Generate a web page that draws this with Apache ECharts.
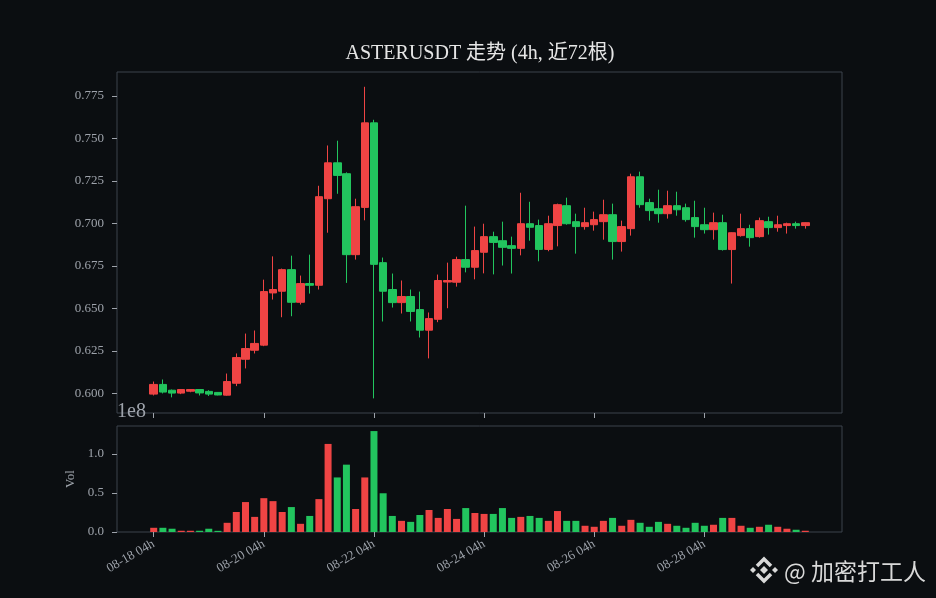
<!DOCTYPE html>
<html>
<head>
<meta charset="UTF-8">
<title>ASTERUSDT 走势</title>
<script src="https://cdn.jsdelivr.net/npm/echarts@6/dist/echarts.min.js"></script>
<style>
  html, body { margin: 0; padding: 0; background: #0b0e11; }
  #main { width: 936px; height: 598px; }
</style>
</head>
<body>
<div id="main"></div>
<script type="text/javascript">
// 4h K线数据 (72根, 起点 08-18 04h)
var openP = [0.5996,0.6053,0.6019,0.6002,0.6013,0.6023,0.6012,0.6006,0.5990,0.6060,
             0.6201,0.6254,0.6284,0.6591,0.6601,0.6728,0.6536,0.6646,0.6636,0.7145,
             0.7356,0.7292,0.6816,0.7094,0.7591,0.6769,0.6611,0.6534,0.6570,0.6493,
             0.6372,0.6436,0.6655,0.6654,0.6787,0.6742,0.6830,0.6922,0.6898,0.6869,
             0.6853,0.6998,0.6987,0.6847,0.6987,0.7104,0.7010,0.6981,0.6992,0.7010,
             0.7051,0.6893,0.6969,0.7274,0.7122,0.7086,0.7057,0.7104,0.7092,0.7034,
             0.6992,0.6963,0.7004,0.6846,0.6928,0.6969,0.6922,0.7010,0.6975,0.6987,
             0.6998,0.6987];
var highP = [0.6070,0.6082,0.6023,0.6026,0.6025,0.6025,0.6019,0.6008,0.6117,0.6235,
             0.6352,0.6370,0.6669,0.6806,0.6734,0.6810,0.6693,0.6816,0.7221,0.7458,
             0.7486,0.7300,0.7145,0.7803,0.7609,0.6799,0.6705,0.6664,0.6611,0.6599,
             0.6476,0.6699,0.6769,0.6804,0.7104,0.6981,0.6998,0.6951,0.7010,0.6922,
             0.7180,0.7127,0.7022,0.7045,0.7116,0.7151,0.7057,0.7092,0.7069,0.7139,
             0.7116,0.7016,0.7292,0.7304,0.7145,0.7198,0.7192,0.7186,0.7116,0.7133,
             0.7092,0.7063,0.7051,0.6947,0.7057,0.6992,0.7034,0.7039,0.7045,0.7004,
             0.7010,0.7006];
var lowP  = [0.5988,0.6000,0.5977,0.5996,0.6007,0.5988,0.5985,0.5989,0.5987,0.6043,
             0.6147,0.6235,0.6278,0.6552,0.6448,0.6454,0.6523,0.6587,0.6611,0.6945,
             0.7174,0.6650,0.6787,0.7018,0.5971,0.6423,0.6505,0.6470,0.6423,0.6329,
             0.6206,0.6419,0.6501,0.6628,0.6712,0.6671,0.6706,0.6700,0.6752,0.6705,
             0.6812,0.6898,0.6777,0.6836,0.6865,0.6992,0.6822,0.6963,0.6957,0.6904,
             0.6787,0.6834,0.6928,0.7092,0.7016,0.7004,0.7028,0.7045,0.7010,0.6916,
             0.6940,0.6904,0.6840,0.6646,0.6922,0.6863,0.6916,0.6934,0.6951,0.6940,
             0.6969,0.6969];
var closeP = [0.6053,0.6008,0.6002,0.6023,0.6023,0.6003,0.5996,0.5991,0.6070,0.6211,
             0.6264,0.6294,0.6599,0.6611,0.6728,0.6536,0.6646,0.6636,0.7157,0.7356,
             0.7282,0.6816,0.7098,0.7591,0.6759,0.6601,0.6534,0.6570,0.6482,0.6372,
             0.6440,0.6664,0.6664,0.6787,0.6742,0.6840,0.6922,0.6888,0.6859,0.6853,
             0.6998,0.6977,0.6847,0.6998,0.7110,0.6998,0.6981,0.7004,0.7022,0.7051,
             0.6893,0.6981,0.7274,0.7110,0.7075,0.7057,0.7104,0.7080,0.7022,0.6981,
             0.6963,0.7004,0.6846,0.6945,0.6969,0.6916,0.7016,0.6975,0.6992,0.6998,
             0.6987,0.7004];
var volume = [0.054e8,0.054e8,0.042e8,0.016e8,0.016e8,0.016e8,0.042e8,0.015e8,0.118e8,0.257e8,
              0.384e8,0.194e8,0.434e8,0.396e8,0.257e8,0.320e8,0.105e8,0.206e8,0.422e8,1.130e8,
              0.700e8,0.864e8,0.295e8,0.700e8,1.295e8,0.497e8,0.206e8,0.143e8,0.130e8,0.218e8,
              0.282e8,0.181e8,0.295e8,0.168e8,0.307e8,0.244e8,0.232e8,0.232e8,0.307e8,0.181e8,
              0.194e8,0.206e8,0.181e8,0.143e8,0.269e8,0.143e8,0.143e8,0.080e8,0.067e8,0.143e8,
              0.181e8,0.080e8,0.156e8,0.118e8,0.067e8,0.130e8,0.105e8,0.080e8,0.054e8,0.118e8,
              0.080e8,0.093e8,0.181e8,0.181e8,0.080e8,0.054e8,0.067e8,0.093e8,0.067e8,0.042e8,
              0.029e8,0.016e8];
var tickLabels = ['08-18 04h','08-20 04h','08-22 04h','08-24 04h','08-26 04h','08-28 04h'];
var priceTicks = [0.600,0.625,0.650,0.675,0.700,0.725,0.750,0.775];
var volTicks = [0, 0.5e8, 1.0e8];

var UP = '#ef4444', DOWN = '#22c55e';
var TXT = '#9ea3ab', BORDER = '#3c424c';
var FONT = '"Liberation Serif", "Noto Sans CJK SC", serif';
var pad = 4; // 左右各留4根的空位

// 时间轴 (4小时一根)
var start = Date.UTC(2025, 7, 18, 4);
var cats = [];
function p2(n) { return (n < 10 ? '0' : '') + n; }
for (var k = -pad; k < openP.length + pad; k++) {
    var d = new Date(start + k * 4 * 3600 * 1000);
    cats.push(p2(d.getUTCMonth() + 1) + '-' + p2(d.getUTCDate()) + ' ' + p2(d.getUTCHours()) + 'h');
}

var kData = [], vData = [];
for (var i = 0; i < pad; i++) { kData.push(['-','-','-','-']); vData.push('-'); }
for (var i = 0; i < openP.length; i++) {
    kData.push([openP[i], closeP[i], lowP[i], highP[i]]);
    vData.push({ value: volume[i], itemStyle: { color: closeP[i] >= openP[i] ? UP : DOWN } });
}
for (var i = 0; i < pad; i++) { kData.push(['-','-','-','-']); vData.push('-'); }

function showTick(index, value) { return tickLabels.indexOf(value) >= 0; }

var myChart = echarts.init(document.getElementById('main'));
myChart.setOption({
    backgroundColor: '#0b0e11',
    animation: false,
    grid: [
        { left: 117, top: 72, width: 725, height: 341, show: true, borderColor: BORDER, borderWidth: 1, outerBoundsMode: 'none' },
        { left: 117, top: 426, width: 725, height: 106, show: true, borderColor: BORDER, borderWidth: 1, outerBoundsMode: 'none' }
    ],
    xAxis: [
        {
            type: 'category', gridIndex: 0, data: cats, boundaryGap: false,
            axisLine: { show: false },
            axisTick: { show: true, interval: showTick, length: 5, lineStyle: { color: TXT } },
            axisLabel: { show: false },
            splitLine: { show: false }
        },
        {
            type: 'category', gridIndex: 1, data: cats, boundaryGap: false,
            axisLine: { show: false },
            axisTick: { show: true, interval: showTick, length: 5, lineStyle: { color: TXT } },
            axisLabel: { show: true, interval: showTick, rotate: 30, margin: 11, color: TXT, fontSize: 13, fontFamily: FONT },
            splitLine: { show: false }
        }
    ],
    yAxis: [
        {
            type: 'value', gridIndex: 0, min: 0.5885, max: 0.789, scale: true,
            axisLine: { show: false },
            axisTick: { show: true, length: 5, customValues: priceTicks, lineStyle: { color: TXT } },
            axisLabel: { customValues: priceTicks, color: TXT, fontSize: 13, fontFamily: FONT, margin: 13,
                formatter: function (v) { return v.toFixed(3); } },
            splitLine: { show: false }
        },
        {
            type: 'value', gridIndex: 1, min: 0, max: 1.36e8,
            name: 'Vol', nameLocation: 'middle', nameGap: 37,
            nameTextStyle: { color: TXT, fontSize: 13, fontFamily: FONT },
            axisLine: { show: false },
            axisTick: { show: true, length: 5, customValues: volTicks, lineStyle: { color: TXT } },
            axisLabel: { customValues: volTicks, color: TXT, fontSize: 13, fontFamily: FONT, margin: 13,
                formatter: function (v) { return (v / 1e8).toFixed(1); } },
            splitLine: { show: false }
        }
    ],
    graphic: [
        { type: 'text', x: 480, y: 54, style: { text: 'ASTERUSDT 走势 (4h, 近72根)', fill: '#e6e6e6',
            font: '20px ' + FONT, align: 'center', verticalAlign: 'middle' } },
        { type: 'text', x: 117, y: 402, style: { text: '1e8', fill: TXT, font: '20px ' + FONT, align: 'left', verticalAlign: 'top' } },
        // 水印
        { type: 'polygon', shape: { points: [[764,566],[768,570],[764,574],[760,570]] }, style: { fill: '#d9d9d9' } },
        { type: 'polygon', shape: { points: [[753,567],[756,570],[753,573],[750,570]] }, style: { fill: '#d9d9d9' } },
        { type: 'polygon', shape: { points: [[775,567],[778,570],[775,573],[772,570]] }, style: { fill: '#d9d9d9' } },
        { type: 'polyline', shape: { points: [[757,566],[764,559],[771,566]] }, style: { stroke: '#d9d9d9', lineWidth: 3.5, fill: null } },
        { type: 'polyline', shape: { points: [[757,574],[764,581],[771,574]] }, style: { stroke: '#d9d9d9', lineWidth: 3.5, fill: null } },
        { type: 'text', x: 784, y: 571, style: { text: '@ 加密打工人', fill: '#d9d9d9',
            font: '23px "Noto Sans CJK SC", sans-serif', align: 'left', verticalAlign: 'middle' } }
    ],
    series: [
        {
            name: 'K', type: 'candlestick', xAxisIndex: 0, yAxisIndex: 0,
            data: kData, barWidth: 8,
            itemStyle: { color: UP, color0: DOWN, borderColor: UP, borderColor0: DOWN, borderWidth: 1 }
        },
        {
            name: 'Vol', type: 'bar', xAxisIndex: 1, yAxisIndex: 1,
            data: vData, barWidth: 7
        }
    ]
});
</script>
</body>
</html>
